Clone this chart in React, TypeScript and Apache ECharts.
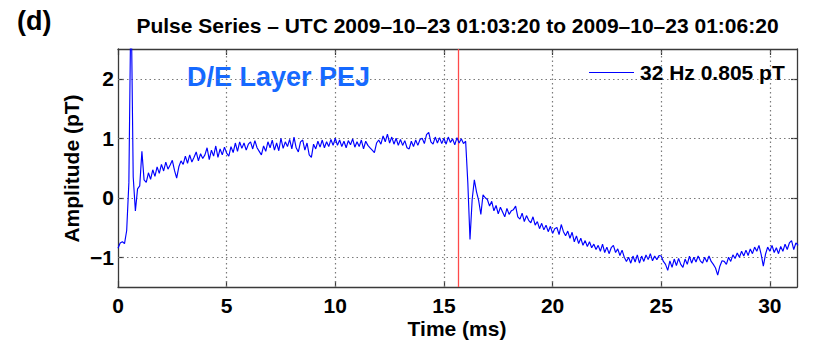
import React, { useEffect, useRef } from "react";
import * as echarts from "echarts";

// Sample interval (ms) and measured amplitude (pT), one value per sample from t = 0
const sampleStepMs = 0.1;
const amplitude = [
  -0.85, -0.76, -0.74, -0.77, -0.55, 0.25, 3.5, 0.35, -0.22, 0.15,
  0.2, 0.78, 0.3, 0.26, 0.42, 0.31, 0.47, 0.36, 0.52, 0.41,
  0.56, 0.45, 0.6, 0.48, 0.55, 0.63, 0.46, 0.33, 0.52, 0.62,
  0.56, 0.7, 0.58, 0.72, 0.6, 0.68, 0.77, 0.62, 0.74, 0.66,
  0.72, 0.84, 0.64, 0.8, 0.7, 0.87, 0.68, 0.82, 0.72, 0.85,
  0.75, 0.7, 0.86, 0.76, 0.92, 0.78, 0.94, 0.83, 0.92, 0.8,
  0.9, 0.94, 0.82, 0.96, 0.84, 0.78, 0.72, 0.87, 0.78, 0.94,
  0.84, 0.97, 0.8, 0.92, 0.79, 1.0, 0.83, 0.94, 0.86, 0.98,
  0.82, 1.02, 0.84, 0.77, 0.94, 0.97, 0.8, 0.92, 0.72, 0.68,
  0.9, 0.82, 0.95, 0.85, 0.97, 0.84, 0.94, 0.86, 0.98, 0.88,
  1.0, 0.88, 0.97, 0.86, 0.95, 0.84, 0.96, 0.89, 0.99, 0.85,
  0.94, 0.86, 0.97, 0.82, 0.95, 0.88, 0.84, 0.8, 0.76, 0.92,
  0.97, 0.9, 1.04, 0.94, 1.07, 0.92, 1.02, 0.9, 1.0, 0.88,
  0.98, 0.88, 0.96, 0.84, 0.82, 0.95, 0.86, 0.97, 0.88, 0.98,
  1.0, 0.91, 1.06, 1.1, 0.94, 0.9, 1.02, 0.92, 1.01, 0.91,
  1.0, 0.9, 1.02, 0.93, 0.99, 0.89, 1.01, 0.92, 0.99, 0.91,
  0.95, 0.25, -0.7, -0.03, 0.3, 0.1, -0.05, -0.28, 0.05, 0.0,
  -0.03, -0.14, -0.06, -0.22, -0.13, -0.27, -0.16, -0.24, -0.32, -0.18,
  -0.28, -0.22, -0.2, -0.14, -0.32, -0.36, -0.26, -0.4, -0.3, -0.38,
  -0.42, -0.32, -0.46, -0.4, -0.52, -0.43, -0.54, -0.46, -0.57, -0.48,
  -0.6, -0.52, -0.5, -0.62, -0.45, -0.57, -0.64, -0.56, -0.68, -0.58,
  -0.74, -0.64, -0.77, -0.68, -0.8, -0.72, -0.82, -0.74, -0.84, -0.78,
  -0.87, -0.8, -0.9, -0.78, -0.92, -0.83, -0.94, -0.84, -0.8, -0.92,
  -0.86, -0.97, -0.88, -1.0, -1.07, -1.0, -1.1, -0.98, -1.08, -0.96,
  -1.1, -0.98, -1.07, -0.96, -1.04, -0.94, -1.06, -0.98, -1.04, -0.97,
  -0.98, -1.07, -1.12, -1.22, -1.06, -1.17, -1.03, -1.14, -1.02, -1.12,
  -1.17, -1.03, -1.12, -0.98, -1.1, -1.0, -1.08, -0.98, -1.06, -1.1,
  -1.0, -1.08, -0.98, -1.07, -1.12, -1.18, -1.3, -1.15, -1.06, -1.07,
  -1.12, -1.0, -1.07, -0.96, -1.02, -0.93, -1.0, -0.9, -0.98, -0.88,
  -0.97, -0.86, -0.94, -0.83, -0.9, -0.8, -0.95, -1.15, -0.95, -0.83,
  -0.9, -0.8, -0.92, -0.84, -0.94, -0.82, -0.9, -0.78, -0.87, -0.76,
  -0.72, -0.87, -0.76, -0.8,
];

const xTicks = [0, 5, 10, 15, 20, 25, 30];
const yTicks = [-1, 0, 1, 2];
const xRange = [0, 31.25];
const yRange = [-1.5, 2.5];
const eventTimes = [15.68];

const seriesName = "32 Hz 0.805 pT";
const titleText = "Pulse Series \u2013 UTC 2009\u201310\u201323 01:03:20 to 2009\u201310\u201323 01:06:20";
const panelLabel = "(d)";
const annotation = "D/E Layer PEJ";
const xName = "Time (ms)";
const yName = "Amplitude (pT)";

const FONT = "'Liberation Sans', Arial, Helvetica, sans-serif";

export default function App() {
  const ref = useRef<HTMLDivElement>(null);

  useEffect(() => {
    if (!ref.current) return;
    const chart = echarts.init(ref.current, undefined, { renderer: "svg" });

    const data = amplitude.map((v, i) => [+(i * sampleStepMs).toFixed(2), v]);
    const L = 118, T = 49, W = 679, H = 238;
    const frame = "#3a3a3a";
    const labelStyle = { fontFamily: FONT, fontWeight: "bold" as const, fontSize: 21, color: "#000" };
    const minus = (v: number) => String(v).replace("-", "\u2212");
    const dotted = { color: "#7a7a7a", width: 1.2, type: [1.5, 3] as any };

    const frameLine = { show: true, onZero: false, lineStyle: { color: frame, width: 1.3 } };
    const tick = (vals: number[]) => ({ show: true, inside: true, length: 6, customValues: vals, lineStyle: { color: frame, width: 1.2 } });

    // grid lines as markLines on the main series (drawn behind the curve)
    const gridMarks = [
      ...xTicks.filter((t) => t > xRange[0]).map((t) => ({ xAxis: t })),
      ...yTicks.map((v) => ({ yAxis: v })),
    ];

    chart.setOption({
      animation: false,
      tooltip: { show: false },
      grid: { left: L, top: T, width: W, height: H },
      legend: {
        data: [{ name: seriesName, icon: "rect" }],
        left: 589,
        top: 62,
        padding: 0,
        itemWidth: 45,
        itemHeight: 1.2,
        itemGap: 0,
        textStyle: { fontFamily: FONT, fontWeight: "bold", fontSize: 21, color: "#000", padding: [0, 0, 0, 1] },
      },
      xAxis: [
        {
          type: "value", min: xRange[0], max: xRange[1], position: "bottom",
          axisLine: frameLine,
          splitLine: { show: false },
          axisTick: tick(xTicks),
          axisLabel: { ...labelStyle, margin: 8, customValues: xTicks, formatter: minus },
        },
        {
          type: "value", min: xRange[0], max: xRange[1], position: "top",
          axisLine: frameLine,
          splitLine: { show: false },
          axisTick: tick(xTicks),
          axisLabel: { show: false },
        },
      ],
      yAxis: [
        {
          type: "value", min: yRange[0], max: yRange[1], position: "left",
          axisLine: frameLine,
          splitLine: { show: false },
          axisTick: tick(yTicks),
          axisLabel: { ...labelStyle, margin: 4, customValues: yTicks, formatter: minus },
        },
        {
          type: "value", min: yRange[0], max: yRange[1], position: "right",
          axisLine: frameLine,
          splitLine: { show: false },
          axisTick: tick(yTicks),
          axisLabel: { show: false },
        },
      ],
      graphic: [
        { type: "text", left: 17, top: 7, style: { text: panelLabel, font: `bold 27px ${FONT}`, fill: "#000" } },
        { type: "text", x: 457.5, y: 25, style: { text: titleText, font: `bold 21px ${FONT}`, fill: "#000", align: "center", verticalAlign: "middle" } },
        { type: "text", x: 457, y: 328, style: { text: xName, font: `bold 21px ${FONT}`, fill: "#000", align: "center", verticalAlign: "middle" } },
        { type: "text", x: 71.5, y: 168.5, rotation: Math.PI / 2, style: { text: yName, font: `bold 21px ${FONT}`, fill: "#000", align: "center", verticalAlign: "middle" } },
        { type: "text", left: 187, top: 63, style: { text: annotation, font: `bold 27px ${FONT}`, fill: "#1569ff" } },
      ],
      series: [
        {
          name: seriesName,
          type: "line",
          xAxisIndex: 0,
          yAxisIndex: 0,
          data,
          symbol: "none",
          showSymbol: false,
          clip: true,
          z: 3,
          lineStyle: { color: "#0000ff", width: 1.15 },
          itemStyle: { color: "#0000ff" },
          markLine: {
            silent: true,
            symbol: "none",
            z: 1,
            label: { show: false },
            lineStyle: { color: "#ff4a4a", width: 1.3, type: "solid" },
            data: [
              ...gridMarks.map((d) => ({ ...d, lineStyle: dotted })),
              ...eventTimes.map((t) => ({ xAxis: t })),
            ],
          },
        },
      ],
    });

    return () => chart.dispose();
  }, []);

  return <div ref={ref} style={{ width: 813, height: 340, position: "absolute", left: 0, top: 0 }} />;
}
